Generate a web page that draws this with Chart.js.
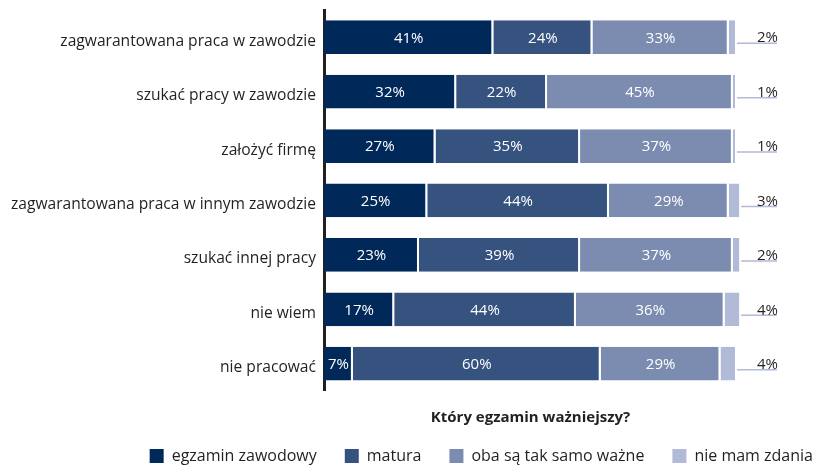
<!DOCTYPE html>
<html lang="pl">
<head>
<meta charset="utf-8">
<title>Który egzamin ważniejszy?</title>
<script src="https://cdn.jsdelivr.net/npm/chart.js@4.4.1/dist/chart.umd.min.js"></script>
<style>
  html, body { margin: 0; padding: 0; background: #fff; }
  #chart { display: block; }
</style>
</head>
<body>
<canvas id="chart" width="817" height="465"></canvas>
<script>
const categories = [
  "zagwarantowana praca w zawodzie",
  "szukać pracy w zawodzie",
  "założyć firmę",
  "zagwarantowana praca w innym zawodzie",
  "szukać innej pracy",
  "nie wiem",
  "nie pracować"
];
const seriesNames = ["egzamin zawodowy", "matura", "oba są tak samo ważne", "nie mam zdania"];
const vocational = [41, 32, 27, 25, 23, 17, 7];
const matura = [24, 22, 35, 44, 39, 44, 60];
const bothEqual = [33, 45, 37, 29, 37, 36, 29];
const noOpinion = [2, 1, 1, 3, 2, 4, 4];
const chartTitle = "Który egzamin ważniejszy?";

const colors = ["#00295a", "#365380", "#7b8cb0", "#b1bad6"];
const FONT = '"Open Sans", "DejaVu Sans", sans-serif';
const TEXT = "#231f20";

// value labels inside the bars + outside labels with a leader line for the last series
const segmentLabels = {
  id: "segmentLabels",
  afterDatasetsDraw(chart) {
    const ctx = chart.ctx;
    ctx.save();
    ctx.font = "15px " + FONT;
    ctx.textBaseline = "alphabetic";

    for (let d = 0; d < 3; d++) {
      const values = chart.data.datasets[d].data;
      chart.getDatasetMeta(d).data.forEach((bar, i) => {
        ctx.fillStyle = "#fff";
        ctx.textAlign = "center";
        ctx.fillText(values[i] + "%", (bar.x + bar.base) / 2, bar.y + 5.3);
      });
    }

    const lineEnd = chart.chartArea.right + 40;
    const last = chart.data.datasets[3].data;
    chart.getDatasetMeta(3).data.forEach((bar, i) => {
      ctx.strokeStyle = "#b1bad6";
      ctx.lineWidth = 1.5;
      ctx.beginPath();
      ctx.moveTo(bar.x, bar.y + 6);
      ctx.lineTo(lineEnd, bar.y + 6);
      ctx.stroke();
      ctx.fillStyle = TEXT;
      ctx.textAlign = "right";
      ctx.fillText(last[i] + "%", lineEnd + 1, bar.y + 5.2);
    });
    ctx.restore();
  }
};

// the legend sits further right than the plot area, over the label margin
const legendShift = {
  id: "legendShift",
  afterLayout(chart) {
    chart.legend.right = chart.width + 24;
  }
};

const allSeries = [vocational, matura, bothEqual, noOpinion];

new Chart(document.getElementById("chart"), {
  type: "bar",
  data: {
    labels: categories,
    datasets: allSeries.map((values, i) => ({
      label: seriesNames[i],
      data: values,
      backgroundColor: colors[i],
      borderColor: "#ffffff",
      borderWidth: { top: 0, right: 2, bottom: 0, left: 0 },
      borderSkipped: false,
      categoryPercentage: 1,
      barPercentage: 0.62,
      clip: false
    }))
  },
  options: {
    indexAxis: "y",
    responsive: false,
    devicePixelRatio: 1,
    animation: false,
    layout: { padding: { top: 10, right: 80, bottom: -9, left: 0 } },
    scales: {
      x: { stacked: true, display: false, min: 0, max: 100 },
      y: {
        stacked: true,
        grid: { display: false },
        border: { display: true, color: TEXT, width: 3 },
        ticks: {
          color: TEXT,
          font: { family: FONT, size: 15.6, lineHeight: 1 },
          padding: 0,
          labelOffset: 4
        },
        afterFit(scale) { scale.width = 324; }
      }
    },
    plugins: {
      tooltip: { enabled: false },
      title: {
        display: true,
        text: chartTitle,
        position: "bottom",
        fullSize: false,
        color: TEXT,
        font: { family: FONT, size: 15, weight: "bold", lineHeight: 0.27 },
        padding: { top: 25, bottom: 0 }
      },
      legend: {
        position: "bottom",
        align: "end",
        weight: 3000,
        labels: {
          color: TEXT,
          font: { family: FONT, size: 16 },
          boxWidth: 14,
          boxHeight: 14,
          padding: 28,
          generateLabels(chart) {
            const items = Chart.defaults.plugins.legend.labels.generateLabels(chart);
            items.forEach(it => { it.lineWidth = 0; });
            return items;
          }
        }
      }
    }
  },
  plugins: [segmentLabels, legendShift]
});
</script>
</body>
</html>
